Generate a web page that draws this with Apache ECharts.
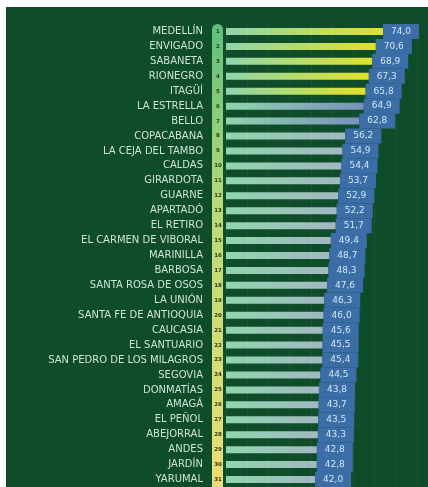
<!DOCTYPE html>
<html>
<head>
<meta charset="utf-8">
<script src="https://cdn.jsdelivr.net/npm/echarts@6/dist/echarts.min.js"></script>
<style>
html,body{margin:0;padding:0;background:#ffffff;}
#bg{position:absolute;left:6px;top:7px;right:0;bottom:0;background:#0e4c2a;}
#chart{position:absolute;left:0;top:0;width:428px;height:487px;}
</style>
</head>
<body>
<div id="bg"></div>
<div id="chart"></div>
<script>
const municipios = ["MEDELLÍN","ENVIGADO","SABANETA","RIONEGRO","ITAGÜÍ","LA ESTRELLA","BELLO","COPACABANA","LA CEJA DEL TAMBO","CALDAS","GIRARDOTA","GUARNE","APARTADÓ","EL RETIRO","EL CARMEN DE VIBORAL","MARINILLA","BARBOSA","SANTA ROSA DE OSOS","LA UNIÓN","SANTA FE DE ANTIOQUIA","CAUCASIA","EL SANTUARIO","SAN PEDRO DE LOS MILAGROS","SEGOVIA","DONMATÍAS","AMAGÁ","EL PEÑOL","ABEJORRAL","ANDES","JARDÍN","YARUMAL"];
const puestos = ["1","2","3","4","5","6","7","8","9","10","11","12","13","14","15","16","17","18","19","20","21","22","23","24","25","26","27","28","29","30","31"];
const valores = [74.0,70.6,68.9,67.3,65.8,64.9,62.8,56.2,54.9,54.4,53.7,52.9,52.2,51.7,49.4,48.7,48.3,47.6,46.3,46.0,45.6,45.5,45.4,44.5,43.8,43.7,43.5,43.3,42.8,42.8,42.0];

function grad(c0, c1){
  return new echarts.graphic.LinearGradient(0,0,1,0,[{offset:0,color:c0},{offset:1,color:c1}]);
}
const barData = valores.map((v,i)=>({
  value: v,
  itemStyle: {
    color: i < 5 ? grad('#8fd5ad','#e0e22a') : (i < 7 ? grad('#8fd5ad','#7a91bb') : grad('#8fd6ac','#a2b8c2'))
  }
}));

const chart = echarts.init(document.getElementById('chart'), null, {renderer:'canvas'});
chart.setOption({
  backgroundColor: 'transparent',
  animation: false,
  grid: {left: 226, right: 11, top: 24, bottom: 0, containLabel: false},
  graphic: [{
    type: 'rect',
    z: -1,
    shape: {x: 212, y: 24, width: 11, height: 463, r: [5.5,5.5,0,0]},
    style: {
      fill: new echarts.graphic.LinearGradient(0,0,0,1,[
        {offset:0,color:'#5cbf7c'},{offset:0.4,color:'#b9db78'},{offset:1,color:'#ecdd74'}])
    }
  }],
  xAxis: {
    type: 'value', min: 0, max: 90, interval: 10,
    axisLine:{show:false}, axisTick:{show:false}, axisLabel:{show:false},
    splitLine:{show:true, lineStyle:{color:'rgba(255,255,255,0.05)', width:1}}
  },
  yAxis: [{
    type: 'category', inverse: true, data: municipios,
    axisLine:{show:false}, axisTick:{show:false},
    axisLabel:{margin: 23, color:'#cfe4d3', fontFamily:'DejaVu Sans', fontSize: 10, fontWeight: 'normal'}
  },{
    type: 'category', inverse: true, data: puestos, position: 'left',
    axisLine:{show:false}, axisTick:{show:false},
    axisLabel:{margin: 8, align:'center', color:'#2e3a14', fontFamily:'DejaVu Sans', fontSize: 5.5, fontWeight:'bold'}
  }],
  series: [{
    type: 'bar', yAxisIndex: 0, data: barData, barWidth: 7,
    label: {
      show: true, position: 'right', distance: 0,
      formatter: p => '{v|' + p.value.toFixed(1).replace('.', ',') + '}',
      rich: {
        v: {width: 36, height: 15, lineHeight: 15, align: 'center', backgroundColor: '#3b6da6',
            color: '#d4e6f6', fontFamily: 'DejaVu Sans', fontSize: 9}
      }
    }
  }]
});
</script>
</body>
</html>
